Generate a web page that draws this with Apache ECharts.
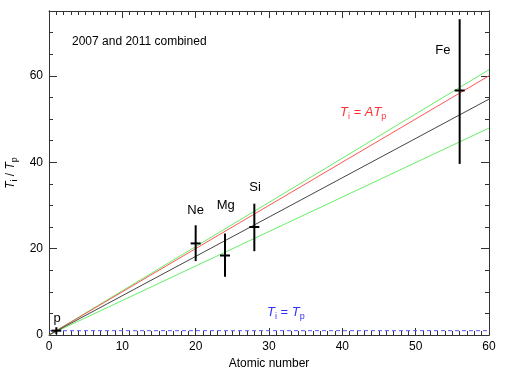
<!DOCTYPE html>
<html lang="en">
<head>
    <meta charset="UTF-8">
    <title>Ti/Tp vs atomic number</title>
    <style>
        body { margin: 0; background: #fff; }
        #chart { width: 512px; height: 380px; }
    </style>
    <script src="https://cdn.jsdelivr.net/npm/echarts@6/dist/echarts.min.js"></script>
</head>
<body>
    <div id="chart"></div>
    <script>
        // measured points: name, atomic number, Ti/Tp, error low, error high
        var ions = ['p', 'Ne', 'Mg', 'Si', 'Fe'];
        var atomicNum = [1, 20, 24, 28, 56];
        var ratio = [1, 21.2, 18.4, 25, 56.6];
        var errLow = [0.2, 17.1, 13.5, 19.4, 39.6];
        var errHigh = [1.8, 25.4, 23.5, 30.4, 73.1];
        // where each ion name sits (data units)
        var labelX = [1.1, 20, 24.1, 28.1, 53.7];
        var labelY = [3.9, 28.9, 30, 34.2, 65.8];

        // straight lines, endpoints [x, y]
        var fitLine = [[0, 0], [60, 54.6]];
        var massLine = [[0, 0], [60, 60]];
        var upperBound = [[0, 0], [60, 61.4]];
        var lowerBound = [[0, 0], [60, 47.9]];
        var equalLine = [[0, 1], [60, 1]];

        var chart = echarts.init(document.getElementById('chart'));

        var points = [];
        for (var i = 0; i < ions.length; i++) {
            points.push([atomicNum[i], ratio[i], errLow[i], errHigh[i], labelX[i], labelY[i], ions[i]]);
        }

        var axisCol = '#333';
        var sub = {
            T: { fontStyle: 'italic', fontSize: 12 },
            s: { fontSize: 9, verticalAlign: 'bottom', padding: [8, 0, 0, 0] }
        };

        function xAx(pos, labels) {
            return {
                type: 'value', position: pos, min: 0, max: 60, interval: 10,
                name: labels ? 'Atomic number' : '', nameLocation: 'middle', nameGap: 22,
                nameTextStyle: { color: '#000', fontSize: 12, fontFamily: 'Liberation Sans' },
                axisLine: { onZero: false, lineStyle: { color: axisCol } },
                axisTick: { inside: true, length: 7, lineStyle: { color: axisCol } },
                minorTick: { show: true, splitNumber: 10, length: 4, lineStyle: { color: axisCol } },
                axisLabel: { show: labels, color: '#000', fontSize: 12, margin: 6, fontFamily: 'Liberation Sans' },
                splitLine: { show: false }
            };
        }
        function yAx(pos, step, len, labels) {
            return {
                type: 'value', position: pos, min: 0, max: 75, interval: step,
                name: labels ? '{T|T}{s|i} / {T|T}{s|p}' : '',
                nameLocation: 'middle', nameGap: 24, nameRotate: 90,
                nameTextStyle: { color: '#000', fontFamily: 'Liberation Sans', rich: sub },
                axisLine: { onZero: false, lineStyle: { color: axisCol } },
                axisTick: { inside: true, length: len, lineStyle: { color: axisCol } },
                axisLabel: { show: labels, showMaxLabel: false, color: '#000', fontSize: 12, margin: 6, fontFamily: 'Liberation Sans' },
                splitLine: { show: false }
            };
        }

        function lineSeries(data, color, width, type) {
            return {
                type: 'line', data: data, showSymbol: false, silent: true,
                lineStyle: { color: color, width: width, type: type || 'solid' },
                z: 2
            };
        }

        var option = {
            animation: false,
            backgroundColor: '#fff',
            grid: { left: 49, right: 23, top: 11, bottom: 45, outerBoundsMode: 'none', containLabel: false },
            xAxis: [xAx('bottom', true), xAx('top', false)],
            yAxis: [
                yAx('left', 20, 8, true),
                yAx('left', 5, 4, false),
                yAx('right', 20, 8, false),
                yAx('right', 5, 4, false)
            ],
            graphic: [
                { type: 'text', left: 72, top: 36,
                  style: { text: '2007 and 2011 combined', fill: '#000', font: '12px Liberation Sans' } },
                { type: 'text', left: 340, top: 106,
                  style: { text: '{T|T}{s|i}{e| = A}{T|T}{s|p}', fill: '#ff3333', font: '12px Liberation Sans',
                           rich: { T: { fontStyle: 'italic', fontSize: 13, fill: '#ff3333' },
                                   s: { fontSize: 9, fill: '#ff3333', padding: [8, 0, 0, 0] },
                                   e: { fontStyle: 'italic', fontSize: 13, fill: '#ff3333' } } } },
                { type: 'text', left: 267, top: 306,
                  style: { text: '{T|T}{s|i}{e| = }{T|T}{s|p}', fill: '#3333ff', font: '12px Liberation Sans',
                           rich: { T: { fontStyle: 'italic', fontSize: 13, fill: '#3333ff' },
                                   s: { fontSize: 9, fill: '#3333ff', padding: [8, 0, 0, 0] },
                                   e: { fontSize: 13, fill: '#3333ff' } } } }
            ],
            series: [
                lineSeries(upperBound, '#66ee66', 1),
                lineSeries(lowerBound, '#66ee66', 1),
                lineSeries(massLine, '#ff5555', 1),
                lineSeries(fitLine, '#444', 1),
                lineSeries(equalLine, '#5555ff', 1, [4, 3]),
                {
                    type: 'custom',
                    data: points,
                    z: 5,
                    renderItem: function (params, api) {
                        var c = api.coord([api.value(0), api.value(1)]);
                        var lo = api.coord([api.value(0), api.value(2)]);
                        var hi = api.coord([api.value(0), api.value(3)]);
                        var lp = api.coord([api.value(4), api.value(5)]);
                        return {
                            type: 'group',
                            children: [
                                { type: 'line', shape: { x1: c[0], y1: lo[1], x2: c[0], y2: hi[1] },
                                  style: { stroke: '#000', lineWidth: 2 } },
                                { type: 'line', shape: { x1: c[0] - 5, y1: c[1], x2: c[0] + 5, y2: c[1] },
                                  style: { stroke: '#000', lineWidth: 2 } },
                                { type: 'text', x: lp[0], y: lp[1],
                                  style: { text: points[params.dataIndex][6],
                                           fill: '#000', font: '13px Liberation Sans',
                                           align: 'center', verticalAlign: 'middle' } }
                            ]
                        };
                    }
                }
            ]
        };

        chart.setOption(option);
    </script>
</body>
</html>
